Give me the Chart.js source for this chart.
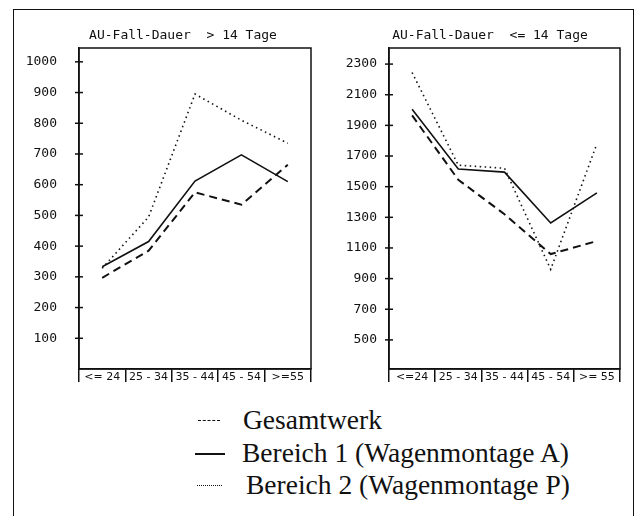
<!DOCTYPE html>
<html>
<head>
<meta charset="utf-8">
<script src="https://cdn.jsdelivr.net/npm/chart.js@4"></script>
<style>
body { margin: 0; background: #fff; }
#page { position: relative; width: 636px; height: 516px; overflow: hidden; }
#frame { position: absolute; left: 13px; top: 9px; width: 619px; height: 520px; border: 1.5px solid #111; border-bottom: none; }
canvas { position: absolute; top: 0; }
.title { position: absolute; top: 27px; font-family: 'DejaVu Sans Mono', monospace; font-size: 13px; white-space: pre; color: #111; transform: translateX(-50%); }
.row { position: absolute; left: 0; height: 32px; font-family: 'Liberation Serif', serif; font-size: 27.5px; color: #111; white-space: pre; }
.sample { position: absolute; top: 16px; height: 0; }
.txt { position: absolute; top: 0; line-height: 32px; }
</style>
</head>
<body>
<div id="page">
    <div id="frame"></div>
    <canvas id="longChart" width="318" height="400" style="left:0"></canvas>
    <canvas id="shortChart" width="318" height="400" style="left:318px"></canvas>
    <div class="title" style="left:183px">AU-Fall-Dauer  &gt; 14 Tage</div>
    <div class="title" style="left:490px">AU-Fall-Dauer  &lt;= 14 Tage</div>
</div>
<script>
// age groups as printed under each panel
const ageGroupsLong = ['<= 24', '25 - 34', '35 - 44', '45 - 54', '>=55'];
const ageGroupsShort = ['<=24', '25 - 34', '35 - 44', '45 - 54', '>= 55'];

// AU-Fall-Dauer > 14 Tage
const longGesamt = [297, 385, 575, 535, 665];
const longBereich1 = [333, 415, 612, 697, 610];
const longBereich2 = [328, 495, 895, 810, 735];
const longTicks = [100, 200, 300, 400, 500, 600, 700, 800, 900, 1000];

// AU-Fall-Dauer <= 14 Tage
const shortGesamt = [1965, 1545, 1320, 1060, 1145];
const shortBereich1 = [2005, 1615, 1595, 1263, 1460];
const shortBereich2 = [2245, 1640, 1620, 960, 1780];
const shortTicks = [500, 700, 900, 1100, 1300, 1500, 1700, 1900, 2100, 2300];

const seriesNames = ['Gesamtwerk', 'Bereich 1 (Wagenmontage A)', 'Bereich 2 (Wagenmontage P)'];

const INK = '#111';

// box round the plot plus the little cross marks on the y axis
const framePlugin = {
    id: 'frame',
    afterDraw(chart) {
        const { ctx, chartArea: a, scales } = chart;
        ctx.save();
        ctx.strokeStyle = INK;
        ctx.lineWidth = 1.5;
        ctx.strokeRect(a.left, a.top, a.right - a.left, a.bottom - a.top);
        scales.y.ticks.forEach(t => {
            const y = scales.y.getPixelForValue(t.value);
            ctx.beginPath();
            ctx.moveTo(a.left - 4, y);
            ctx.lineTo(a.left + 4, y);
            ctx.stroke();
        });
        ctx.restore();
    }
};

function makeChart(id, labels, gesamt, bereich1, bereich2, yMin, yMax, yTicks, yWidth, padRight, labelGap) {
    const ctx = document.getElementById(id).getContext('2d');
    new Chart(ctx, {
        type: 'line',
        data: {
            labels: labels,
            datasets: [
                { label: seriesNames[0], data: gesamt, borderColor: INK, borderWidth: 2, borderDash: [8, 5] },
                { label: seriesNames[1], data: bereich1, borderColor: INK, borderWidth: 1.6 },
                { label: seriesNames[2], data: bereich2, borderColor: INK, borderWidth: 1.6, borderDash: [1.5, 3.5] }
            ]
        },
        options: {
            responsive: false,
            animation: false,
            elements: { point: { radius: 0 }, line: { tension: 0, fill: false } },
            layout: { padding: { top: 48, right: padRight, left: 0, bottom: 0 } },
            plugins: { legend: { display: false }, tooltip: { enabled: false } },
            scales: {
                x: {
                    offset: true,
                    grid: { offset: true, drawOnChartArea: false, tickLength: 13, color: INK, lineWidth: 1.5 },
                    border: { color: INK, width: 1.5 },
                    ticks: { font: { family: 'DejaVu Sans', size: 11 }, color: INK, padding: -11, maxRotation: 0, autoSkip: false },
                    afterFit(s) { s.height = 31; }
                },
                y: {
                    min: yMin,
                    max: yMax,
                    afterBuildTicks(s) { s.ticks = yTicks.map(v => ({ value: v })); },
                    grid: { drawOnChartArea: false, drawTicks: false },
                    border: { color: INK, width: 1.5 },
                    ticks: {
                        font: { family: 'DejaVu Sans Mono', size: 13 },
                        color: INK,
                        padding: labelGap,
                        callback: v => String(v) // no thousands separator
                    },
                    afterFit(s) { s.width = yWidth; }
                }
            }
        },
        plugins: [framePlugin]
    });
}

makeChart('longChart', ageGroupsLong, longGesamt, longBereich1, longBereich2, 0, 1045, longTicks, 79, 7, 22);
makeChart('shortChart', ageGroupsShort, shortGesamt, shortBereich1, shortBereich2, 310, 2405, shortTicks, 71, 16, 12);

// legend under the panels, drawn as plain text
const legendRows = [
    { top: 404, from: 198, to: 220, style: '1.3px dashed', textX: 243 },
    { top: 437, from: 195, to: 225, style: '2px solid', textX: 242 },
    { top: 469, from: 197, to: 222, style: '1.5px dotted', textX: 246 }
];
const page = document.getElementById('page');
legendRows.forEach((r, i) => {
    const row = document.createElement('div');
    row.className = 'row';
    row.style.top = r.top + 'px';
    row.style.width = '636px';
    const sample = document.createElement('span');
    sample.className = 'sample';
    sample.style.left = r.from + 'px';
    sample.style.width = (r.to - r.from) + 'px';
    sample.style.borderTop = r.style + ' ' + INK;
    const txt = document.createElement('span');
    txt.className = 'txt';
    txt.style.left = r.textX + 'px';
    txt.textContent = seriesNames[i];
    row.appendChild(sample);
    row.appendChild(txt);
    page.appendChild(row);
});
</script>
</body>
</html>
